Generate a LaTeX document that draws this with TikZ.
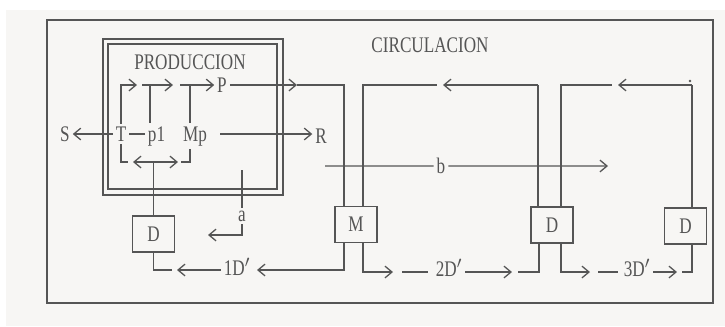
\documentclass[tikz,border=0pt]{standalone}
\usepackage{fontspec}
\setmainfont{Liberation Serif}[FakeStretch=0.77]
\usetikzlibrary{arrows.meta}
\definecolor{ink}{HTML}{555555}
\definecolor{page}{HTML}{F7F6F4}
\begin{document}
\begin{tikzpicture}[x=0.03cm, y=-0.03cm, line width=1.1pt, color=ink,
		>={Straight Barb[length=6pt,width=10pt]},
		every node/.style={inner sep=2pt, font=\fontsize{19}{22}\selectfont},
		rectbox/.style={rectangle, draw, minimum width=1.26cm, minimum height=1.08cm, inner sep=0pt}]
		\useasboundingbox (0,0) rectangle (725,326);
		\fill [white] (0,0) rectangle (725,326);
		\fill [page] (6,10) rectangle (725,326);
		
		\draw (47,20) rectangle (713,303);
		\draw (103,39) rectangle (283,195);
		\draw (108,44) rectangle (277,189);
		
		\node (labprod) at (190,62.5) {PRODUCCION};
		\node (labcirc) at (430,45.5) {CIRCULACION};
		
		\node (labs) at (65,134) {S};
		\node (labt) at (121,134) {T};
		\node (labpone) [anchor=base] at (156.5,141) {p1};
		\node (labmp) [anchor=base] at (195,141) {Mp};
		\node (labp) at (222,85) {P};
		\node (labr) at (321,136) {R};
		\node (labb) [anchor=base] at (441,173.5) {b};
		\node (laba) [anchor=base] at (242,221) {a};
		\node (labdone) [anchor=base] at (237,275) {1D$'$};
		\node (labdtwo) [anchor=base] at (449,276) {2D$'$};
		\node (labdthree) [anchor=base] at (637,276) {3D$'$};
		
		\node (rectdone) [rectbox] at (153.5,234) {D};
		\node (rectm) [rectbox] at (356,224.5) {M};
		\node (rectdtwo) [rectbox] at (552,225) {D};
		\node (rectdthree) [rectbox] at (685.5,226) {D};
		
		\draw [->] (labt) -- (labs);
		\draw (labt) -- (labpone.west |- labt);
		\draw [->] (labt.north) -- (121,85) -- (137,85);
		\draw [->] (142,85) -- (173,85);
		\draw (150,85) -- (labpone.north -| 150,0);
		\draw [->] (180,85) -- (labp);
		\draw (190,85) -- (labmp.north -| 190,0);
		\draw (labt.south) -- (121,162) -- (128,162);
		\draw [<->] (133,162) -- (178,162);
		\draw (181,162) -- (190,162) -- (labmp.south -| 190,0);
		\draw (rectdone.north |- 0,162) -- (rectdone.north);
		\draw [->] (220,134) -- (labr.west |- 0,134);
		
		\draw [->] (labp) -- (297,85);
		\draw (297,85) -- (344,85) -- (rectm.north -| 344,0);
		\draw (rectm.north -| 363,0) -- (363,85) -- (437,85);
		\draw [->] (538,85) -- (443,85);
		\draw (538,85) -- (rectdtwo.north -| 538,0);
		\draw (rectdtwo.north -| 561,0) -- (561,85) -- (612,85);
		\draw [->] (692,85) -- (618,85);
		\draw (692,85) -- (rectdthree.north -| 692,0);
		\fill (690,81) circle [radius=1.1pt];
		
		\draw (325,166) -- (labb);
		\draw [->] (labb) -- (608,166);
		
		\draw (242,170) -- (laba);
		\draw [->] (laba) -- (242,235) -- (208,235);
		
		\draw (rectdone.south) -- (rectdone.south |- 0,270) -- (172,270);
		\draw [->] (labdone.west |- 0,270) -- (177,270);
		\draw [->] (rectm.south -| 344,0) -- (344,270) -- (257,270);
		\draw [->] (rectm.south -| 363,0) -- (363,272) -- (393,272);
		\draw (402,272) -- (428,272);
		\draw [->] (labdtwo.east |- 0,272) -- (512,272);
		\draw (518,272) -- (539,272) -- (rectdtwo.south -| 539,0);
		\draw [->] (rectdtwo.south -| 561,0) -- (561,272) -- (590,272);
		\draw (598,272) -- (618,272);
		\draw [->] (labdthree.east |- 0,272) -- (677,272);
		\draw (682,272) -- (692,272) -- (rectdthree.south -| 692,0);
		
	\end{tikzpicture}
\end{document}
